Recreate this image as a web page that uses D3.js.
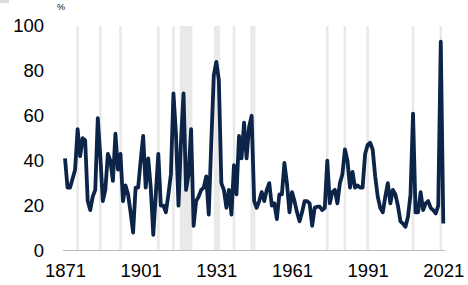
<!DOCTYPE html>
<html>
<head>
<meta charset="utf-8">
<script src="https://cdn.jsdelivr.net/npm/d3@7"></script>
<style>
  html, body { margin: 0; padding: 0; background: #fff; }
  #chart { width: 468px; height: 285px; }
  .tick text { font-family: "Liberation Sans", Arial, sans-serif; fill: #000; }
</style>
</head>
<body>
<div id="chart"></div>
<script>
// annual series, 1871 to 2021, in %
const startYear = 1871;
const values = [
  41, 28, 28, 32, 36, 54, 42, 50, 49, 22,
  18, 24, 27, 59, 42, 22, 27, 43, 40, 31,
  52, 36, 43, 22, 29, 25, 17, 8, 28, 28,
  40, 51, 28, 41, 28, 7, 25, 43, 20, 20,
  17, 25, 34, 70, 52, 20, 49, 70, 27, 34,
  54, 11, 22, 24, 27, 28, 33, 16, 48, 78,
  84, 76, 30, 27, 19, 27, 16, 38, 25, 51,
  41, 57, 41, 55, 60, 22, 19, 22, 26, 22,
  27, 30, 20, 21, 14, 25, 25, 39, 30, 17,
  26, 22, 17, 13, 17, 22, 22, 21, 11, 19,
  19.5, 19.5, 18, 19, 40, 21, 26, 27, 21, 30,
  34, 45, 40, 28, 35, 28, 29, 28, 28, 43,
  47, 48, 45, 33, 24, 19, 17, 24, 30, 21,
  27, 25, 20, 13, 12, 10.6, 15, 25, 61, 17,
  17, 26, 18, 21, 22, 19, 18, 16.5, 20, 93,
  12
];
const years = values.map((v, i) => startYear + i);

// shaded periods [first year, last year]
const bands = [
  [1876, 1876], [1885, 1885], [1893, 1893], [1908, 1908], [1914, 1914],
  [1917, 1921], [1930.5, 1932], [1938, 1938], [1945, 1946], [1975, 1975],
  [1982, 1982], [1991, 1991], [2009, 2009], [2020, 2020]
];

const xTicks = [1871, 1901, 1931, 1961, 1991, 2021];
const yTicks = [0, 20, 40, 60, 80, 100];

const width = 468, height = 285;

const svg = d3.select("#chart").append("svg")
    .attr("width", width)
    .attr("height", height);

const x = d3.scaleLinear().domain([1871, 2021]).range([65, 443.3]);
const y = d3.scaleLinear().domain([0, 100]).range([250.5, 26]);

// legend swatch, cut off by the top edge in the source
svg.append("rect")
    .attr("x", 0)
    .attr("y", -6)
    .attr("width", 9)
    .attr("height", 9)
    .attr("fill", "#dcdcdc");

// shading
svg.append("g")
  .selectAll("rect")
  .data(bands)
  .join("rect")
    .attr("x", d => x(d[0] - 0.5))
    .attr("width", d => x(d[1] + 0.5) - x(d[0] - 0.5))
    .attr("y", y(100))
    .attr("height", y(0) - y(100))
    .attr("fill", "#e9e9e9");

// baseline
svg.append("line")
    .attr("x1", x(1870.2))
    .attr("x2", x(2021.7))
    .attr("y1", y(0))
    .attr("y2", y(0))
    .attr("stroke", "#bdbdbd")
    .attr("stroke-width", 1);

// x axis labels
const xAxis = svg.append("g")
    .attr("transform", `translate(0,${y(0)})`)
    .call(d3.axisBottom(x).tickValues(xTicks).tickFormat(d3.format("d")).tickSize(0).tickPadding(13));
xAxis.select(".domain").remove();
xAxis.selectAll("text").style("font-size", "18.5px");

// y axis labels
const yAxis = svg.append("g")
    .attr("transform", "translate(48,0)")
    .call(d3.axisLeft(y).tickValues(yTicks).tickSize(0).tickPadding(4));
yAxis.select(".domain").remove();
yAxis.selectAll("text").style("font-size", "18.5px");

// unit label
svg.append("text")
    .attr("x", 57)
    .attr("y", 10)
    .attr("font-family", "Liberation Sans, Arial, sans-serif")
    .attr("font-size", "9px")
    .attr("fill", "#111")
    .text("%");

// the series
const line = d3.line()
    .x((d, i) => x(years[i]))
    .y(d => y(d));

svg.append("path")
    .datum(values)
    .attr("fill", "none")
    .attr("stroke", "#0b2447")
    .attr("stroke-width", 3.8)
    .attr("stroke-linejoin", "round")
    .attr("d", line);
</script>
</body>
</html>
